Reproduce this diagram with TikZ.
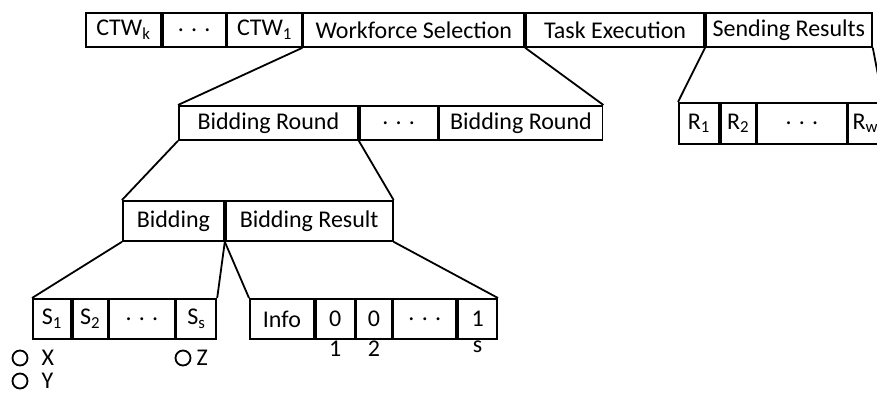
\documentclass[tikz,border=0pt]{standalone}
\usepackage{fontspec}
\setmainfont{Carlito}
\usetikzlibrary{positioning}

\tikzset{
  cell/.style={draw, line width=1.8pt, inner sep=0pt, minimum height=#1,
               font=\fontsize{24}{28}\selectfont},
  cell/.default=34pt,
  dot/.style={draw, circle, line width=1.8pt, minimum size=15pt, inner sep=0pt},
  tag/.style={inner sep=1pt, font=\fontsize{24}{28}\selectfont},
  link/.style={line width=1.8pt}
}

\begin{document}
\begin{tikzpicture}[x=1pt, y=-1pt, node distance=0pt]
    \useasboundingbox (0,0) rectangle (877,394);

    % frame
    \node[cell, minimum width=75pt, anchor=north west] (ctwk) at (85,12) {CTW\textsubscript{k}};
    \node[cell, minimum width=63pt, right=of ctwk] (tdots) {. . .};
    \node[cell, minimum width=74pt, right=of tdots] (ctw1) {CTW\textsubscript{1}};
    \node[cell, minimum width=221pt, right=of ctw1] (ws) {Workforce Selection};
    \node[cell, minimum width=178pt, right=of ws] (te) {Task Execution};
    \node[cell, minimum width=166pt, right=of te] (sr) {Sending Results};

    % bidding rounds
    \node[cell, minimum width=179pt, anchor=north west] (br1) at (178,105) {Bidding Round};
    \node[cell, minimum width=78pt, right=of br1] (brdots) {. . .};
    \node[cell, minimum width=163pt, right=of brdots] (br2) {Bidding Round};

    % results
    \node[cell=41pt, minimum width=40pt, anchor=north west] (r1) at (678,102) {R\textsubscript{1}};
    \node[cell=41pt, minimum width=35pt, right=of r1] (r2) {R\textsubscript{2}};
    \node[cell=41pt, minimum width=89pt, right=of r2] (rdots) {. . .};
    \node[cell=41pt, minimum width=34pt, right=of rdots] (rw) {R\textsubscript{w}};

    % one round
    \node[cell=40pt, minimum width=101pt, anchor=north west] (bid) at (122,200) {Bidding};
    \node[cell=40pt, minimum width=167pt, right=of bid] (bres) {Bidding Result};

    % bids
    \node[cell=40pt, minimum width=38pt, anchor=north west] (s1) at (32,298) {S\textsubscript{1}};
    \node[cell=40pt, minimum width=35pt, right=of s1] (s2) {S\textsubscript{2}};
    \node[cell=40pt, minimum width=65pt, right=of s2] (sdots) {. . .};
    \node[cell=40pt, minimum width=40pt, right=of sdots] (ss) {S\textsubscript{s}};

    % result bits
    \node[cell=40pt, minimum width=64pt, anchor=north west] (info) at (249,298) {Info};
    \node[cell=40pt, minimum width=39pt, right=of info] (b1) {0};
    \node[cell=40pt, minimum width=35pt, right=of b1] (b2) {0};
    \node[cell=40pt, minimum width=63pt, right=of b2] (bdots) {. . .};
    \node[cell=40pt, minimum width=39pt, right=of bdots] (bs) {1};
    \node[tag, below=0pt of b1] (n1) {1};
    \node[tag, below=0pt of b2] (n2) {2};
    \node[tag, below=0pt of bs] (ns) {s};

    % markers
    \node[dot] (ox) at (20,358) {};
    \node[tag, right=12pt of ox] (lx) {X};
    \node[dot] (oy) at (20,381) {};
    \node[tag, right=12pt of oy] (ly) {Y};
    \node[dot] (oz) at (183,358) {};
    \node[tag, right=4pt of oz] (lz) {Z};

    % zoom lines
    \draw[link] (ws.south west) -- (br1.north west);
    \draw[link] (ws.south east) -- (br2.north east);
    \draw[link] (sr.south west) -- (r1.north west);
    \draw[link] (sr.south east) -- (rw.north east);
    \draw[link] (br1.south west) -- (bid.north west);
    \draw[link] (br1.south east) -- (bres.north east);
    \draw[link] (bid.south west) -- (s1.north west);
    \draw[link] (bid.south east) -- (ss.north east);
    \draw[link] (bid.south east) -- (info.north west);
    \draw[link] (bres.south east) -- (bs.north east);
\end{tikzpicture}
\end{document}
